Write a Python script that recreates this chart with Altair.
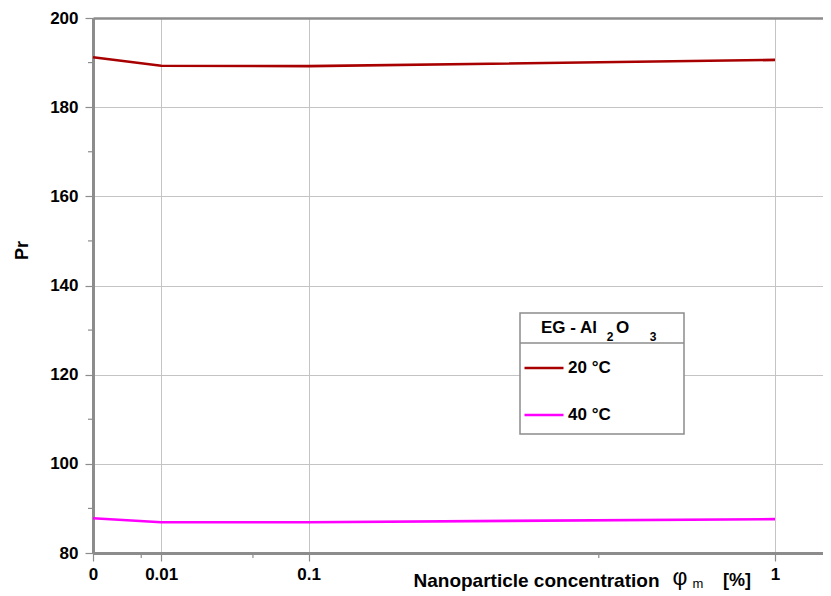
import altair as alt
import pandas as pd

# data
conc = [0, 0.01, 0.1, 1]
pr_20 = [191.2, 189.3, 189.2, 190.6]
pr_40 = [87.8, 86.9, 86.9, 87.6]
series = ["20 °C", "40 °C"]
colors = ["#a80000", "#ff00ff"]

x_ticks = [0, 0.01, 0.1, 1]
x_minor = [0.005, 0.055, 0.55]
y_ticks = [80, 100, 120, 140, 160, 180, 200]
y_minor = [90, 110, 130, 150, 170, 190]

legend_title_parts = ["EG - Al", "2", "O", "3"]
x_title_parts = ["Nanoparticle concentration", "φ", "m", "[%]"]

rows = []
for c, a, b in zip(conc, pr_20, pr_40):
    rows.append({"phi": c, "Pr": a, "T": series[0]})
    rows.append({"phi": c, "Pr": b, "T": series[1]})
df = pd.DataFrame(rows)

W, H = 730, 535
FONT = "Liberation Sans"

xscale = alt.Scale(type="sqrt", domain=[0, 1.1457], nice=False, zero=False)
yscale = alt.Scale(domain=[80, 200], nice=False, zero=False)

lines = alt.Chart(df).mark_line(strokeWidth=2.6).encode(
    x=alt.X("phi:Q", scale=xscale,
            axis=alt.Axis(values=x_ticks, format=".2~f", labelFlush=False,
                          title=x_title_parts[0],
                          titleX=320, titleY=33, titleAlign="left",
                          titleBaseline="alphabetic", titleFontSize=19,
                          gridColor="#c4c4c4", gridWidth=1,
                          labelPadding=5)),
    y=alt.Y("Pr:Q", scale=yscale,
            axis=alt.Axis(values=y_ticks, format="d", title="Pr",
                          labelFlush=False,
                          titleX=-71, titleY=232, titleAngle=270,
                          titleAlign="center", titleBaseline="middle",
                          titleFontSize=18,
                          gridColor=alt.condition("datum.value == 200",
                                                  alt.value("#8c8c8c"),
                                                  alt.value("#c4c4c4")),
                          gridWidth=alt.condition("datum.value == 200",
                                                  alt.value(2.5),
                                                  alt.value(1)),
                          labelPadding=7)),
    color=alt.Color("T:N", scale=alt.Scale(domain=series, range=colors),
                    legend=alt.Legend(title=None, orient="none",
                                      legendX=430, legendY=329,
                                      symbolType="stroke", symbolSize=1521,
                                      symbolStrokeWidth=2.6,
                                      labelOffset=3, rowPadding=18,
                                      labelFont=FONT, labelFontSize=17,
                                      labelFontWeight="bold",
                                      labelColor="#000000", padding=0)),
)

ymin_df = pd.DataFrame({"v": y_minor})
xmin_df = pd.DataFrame({"v": x_minor})

y_minor_ticks = alt.Chart(ymin_df).mark_rule(color="#8c8c8c", strokeWidth=1.2).encode(
    y=alt.Y("v:Q", scale=yscale), x=alt.value(-5), x2=alt.value(0))
x_minor_ticks = alt.Chart(xmin_df).mark_rule(color="#8c8c8c", strokeWidth=1.2).encode(
    x=alt.X("phi:Q", scale=xscale), y=alt.value(H), y2=alt.value(H + 5)
).transform_calculate(phi="datum.v")

box_df = pd.DataFrame({"k": [0]})
legend_box = alt.Chart(box_df).mark_rect(fill="white", stroke="#8c8c8c", strokeWidth=1.5).encode(
    x=alt.value(427), x2=alt.value(591), y=alt.value(295), y2=alt.value(416))
legend_sep = alt.Chart(box_df).mark_rule(color="#8c8c8c", strokeWidth=1.5).encode(
    x=alt.value(427), x2=alt.value(591), y=alt.value(325))


def txt(s, x, y, size, align, weight="bold"):
    return alt.Chart(box_df).mark_text(
        font=FONT, fontWeight=weight, color="#000000", baseline="alphabetic",
        fontSize=size, align=align).encode(
        x=alt.value(x), y=alt.value(y), text=alt.value(s))


texts = [
    txt(legend_title_parts[0], 504, 315, 17, "right"),
    txt(legend_title_parts[1], 517, 323, 12, "center"),
    txt(legend_title_parts[2], 523, 315, 17, "left"),
    txt(legend_title_parts[3], 560, 323, 12, "center"),
    txt(x_title_parts[1], 587, 567, 23, "center", "normal"),
    txt(x_title_parts[2], 605, 570, 13, "center", "normal"),
    txt(x_title_parts[3], 630, 568, 18, "left"),
]

chart = alt.layer(
    y_minor_ticks, x_minor_ticks, lines, legend_box, legend_sep, *texts
).properties(
    width=W, height=H,
    autosize=alt.AutoSizeParams(type="none"),
    padding={"left": 85, "top": 10, "right": 0, "bottom": 38},
).configure_view(stroke=None).configure_axis(
    labelFont=FONT, labelFontSize=17, labelFontWeight="bold", labelColor="#000000",
    titleFont=FONT, titleFontWeight="bold", titleColor="#000000",
    domainColor="#8c8c8c", domainWidth=3,
    tickColor="#8c8c8c", tickSize=8, tickWidth=1.2,
    grid=True,
)

chart.save("out.html", embed_options={"renderer": "svg", "actions": False})
